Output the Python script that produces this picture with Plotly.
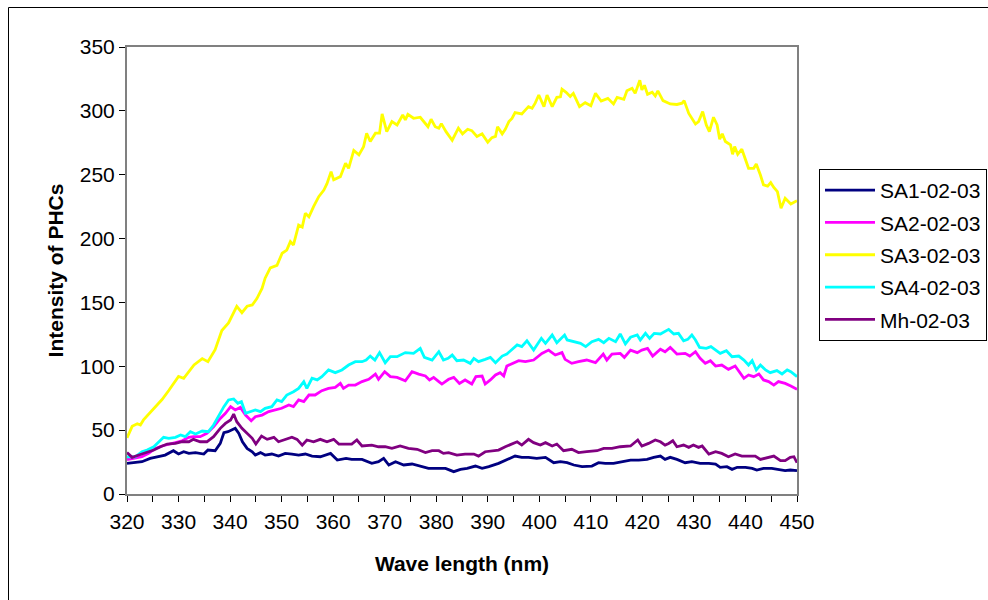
import plotly.graph_objects as go

# ---------------- data ----------------
sa1_wl = [320, 321.6, 322.9, 324.5, 326.1, 327.4, 329, 330, 331, 332, 333.3, 334.9, 335.7, 337.1, 338.1, 338.8, 339.6,
          340.4, 341, 341.7, 342.4, 343.3, 344.3, 344.9, 345.9, 346.8, 348.1, 349.4, 350.7, 352, 353.3, 354.6, 355.9,
          357.5, 359.5, 360.8, 362.5, 363.6, 365.6, 367.5, 368.8, 369.8, 370.8, 372.1, 373.7, 375.3, 376.9, 378.5,
          380.1, 381.8, 383.4, 384.7, 386, 387.6, 388.9, 390.2, 392.1, 393.7, 395.3, 396.6, 397.9, 399.5, 401.2,
          402.8, 404.1, 405.4, 406.7, 408.3, 410.2, 411.5, 412.8, 414.4, 416, 417.7, 419.3, 420.9, 422.2, 423.5,
          424.4, 425.4, 426.7, 428.3, 429.6, 431.2, 432.9, 434.2, 435.1, 436.4, 437.4, 438.4, 440, 441.3, 442.2,
          443.5, 445.1, 446.4, 447.7, 448.7, 450]
sa1_int = [24, 24.5, 25.3, 27.9, 29.2, 30.5, 33.9, 31.3, 33.1, 31.8, 32.4, 31.3, 34.4, 33.9, 39.6, 48, 48.8,
           50.1, 51.4, 47.5, 40.9, 35.7, 33.1, 30.5, 32.4, 30.5, 31.3, 29.7, 31.8, 31.3, 30.5, 31.3, 29.7,
           29.2, 31.8, 26.6, 27.9, 27.1, 27.1, 24, 25.3, 27.9, 22.7, 25.3, 22.7, 23.5, 21.9, 20.1,
           20.1, 20.1, 17.5, 19.3, 20.1, 21.9, 20.1, 21.4, 24, 26.6, 29.7, 28.7, 28.7, 27.9, 28.7,
           24.5, 25.3, 24.5, 22.7, 21.4, 21.9, 24.5, 24, 24, 25.3, 26.6, 26.6, 27.1, 28.7, 29.7,
           27.1, 28.7, 27.1, 24.5, 25.3, 24, 24, 23.5, 20.9, 21.4, 19.3, 20.9, 20.9, 20.1, 18.8,
           20.1, 20.1, 19.3, 18.3, 18.8, 18.3]

sa2_wl = [320, 321.6, 322.9, 324.2, 325.5, 326.8, 328.1, 329.4, 330.7, 332, 332.9, 334.2, 335.5, 336.8, 338.1,
          339.1, 340.1, 341, 342, 343, 344.1, 344.9, 346.2, 347.5, 348.8, 350, 351.4, 352.3, 353.3, 354.3, 355.3,
          356.5, 357.8, 359.1, 360.4, 361.4, 362, 363, 364.3, 365.6, 366.9, 368.2, 368.8, 370, 371.1, 372.4, 374,
          375.3, 376.6, 377.9, 378.7, 379.5, 380.5, 381.1, 382.4, 383.4, 384.5, 385.6, 386.9, 387.7, 388.9, 389.5,
          390.5, 391.5, 392.4, 393.1, 393.7, 394.7, 396, 397.3, 398.9, 400.5, 401.8, 403.1, 404.4, 405, 406.3,
          407.6, 409.2, 410.9, 412.4, 413.1, 414.1, 415.7, 416.5, 417.7, 419, 419.9, 421, 422, 423.5, 424.4, 425.4,
          426.7, 428.3, 429.2, 430.3, 431.2, 432.2, 433.2, 434.2, 435.4, 436.7, 438, 439, 439.7, 440.6, 441.6,
          442.6, 443.5, 444.5, 445.5, 446.4, 447.7, 448.8, 450]
sa2_int = [27, 27.9, 29.2, 31.8, 35.7, 37.6, 39.1, 40.2, 41.7, 44.4, 44.9, 44.9, 47.5, 52.7, 59.2,
           63.2, 68.4, 65.8, 67.8, 61.8, 57.4, 60.5, 61.8, 64.5, 65.8, 67.1, 69.7, 68.4, 73.6, 72.3, 77.5,
           77.5, 80.9, 82.7, 83.5, 86.6, 82.7, 85.3, 85.3, 88, 89.8, 93.9, 89.8, 95.8, 91.9, 91.3, 88.7,
           95.8, 93.9, 92.4, 89.3, 91.3, 88, 86.1, 89.8, 91.3, 86.6, 89.3, 86.1, 91.9, 92.4, 86.1,
           89.3, 93.2, 95, 92.4, 100.2, 101.8, 104.4, 103.6, 104.9, 110.1, 112.7, 108.8, 110.7, 105.4, 102.3,
           103.6, 104.9, 102.8, 109.6, 104.9, 109.6, 110.1, 107, 112.7, 110.7, 112.7, 114, 108, 113.3, 111.4, 114.8,
           109.6, 110.1, 108, 111.4, 106.2, 102.3, 104.4, 100.2, 101, 97.6, 100.2, 95, 90.6, 93.2, 91.9,
           94, 89.3, 88, 85.3, 88, 86.6, 84.6, 81.9]

sa3_wl = [320, 321, 322, 322.6, 323.2, 325.2, 326.8, 328.1, 330, 331, 332, 333, 334.6, 335.7, 337.1, 338.4, 339.7,
          341.3, 342.3, 343.3, 344.3, 345.2, 346.2, 346.8, 347.8, 349.1, 350.1, 351, 351.7, 352.3, 353.3, 354,
          354.6, 355.3, 356.2, 357.2, 358.2, 358.8, 359.6, 360.1, 361.4, 362.4, 363, 364, 365, 365.9, 366.5, 367.2,
          368.2, 369, 369.5, 370.4, 371.4, 372.4, 373.5, 374, 374.5, 375.6, 376.9, 378.4, 379, 379.8, 380.5, 381,
          381.9, 383.1, 384.3, 385.1, 386.1, 386.9, 387.9, 388.9, 390, 390.8, 391.5, 391.9, 392.8, 393.4, 394.1,
          394.7, 395.3, 396.6, 397.9, 398.6, 399.2, 399.9, 400.9, 401.5, 402.5, 403.4, 404.1, 404.4, 405.2, 406,
          406.6, 407.8, 408.9, 410, 410.9, 412, 413.3, 414.4, 415.1, 416.4, 417, 418, 418.6, 419.5, 419.9, 420.4,
          421, 421.9, 422.5, 423, 424, 425.4, 426.7, 427.7, 428.1, 429, 430.3, 430.9, 431.7, 432.4, 433, 433.8,
          434.5, 435, 435.5, 436.1, 437.1, 437.5, 437.9, 438.5, 439.3, 440.6, 441.6, 442.1, 442.9, 443.5, 444.3,
          444.9, 445.5, 446.2, 446.9, 447.7, 448.8, 450]
sa3_int = [44, 53, 55, 54, 58, 67, 74, 81, 92, 90.6, 96, 101, 106, 103.6, 113, 128, 134,
           147, 142, 147, 148, 153, 161, 169, 177, 179, 188.5, 191, 197.6, 195, 210.6, 209,
           219.8, 217, 225, 232.8, 238, 243, 252.4, 246, 248.5, 259, 255, 269, 265.5, 272, 282.5, 276,
           282.5, 282.5, 297.6, 283.7, 291.6, 289, 296.8, 292.9, 297.3, 294.2, 295, 287.6, 293.4, 287.6, 286.4, 290,
           283.7, 277, 286.4, 282, 285.6, 284.5, 280, 282, 275.4, 279, 280, 287.6, 282, 285.6, 291.6,
           294, 298.6, 297.6, 303.3, 302, 306, 312.4, 303.3, 312.4, 303.3, 310.6, 311, 317, 314.5, 311.3,
           313.7, 303.3, 306.4, 304, 313.7, 307.7, 309.8, 305.4, 310.6, 309, 315.8, 317.7, 313.7, 324, 316.4, 320,
           313, 314.6, 311.6, 315.6, 308, 305.4, 305, 306, 308, 298, 289.7, 291.6, 299.4, 289, 283.7, 295,
           289, 277.8, 282, 276, 273.3, 266, 272, 266, 270, 255, 255, 258.4, 249.8, 242, 241,
           243.8, 240, 236.7, 223.7, 231.5, 227, 229.7]

sa4_wl = [320, 321.6, 322.9, 323.9, 325.2, 326.1, 327.1, 328.1, 329.4, 330.4, 331.3, 332.3, 333.3, 334.6, 335.8,
          336.8, 337.8, 338.8, 339.7, 340.7, 341.5, 342.2, 343, 343.9, 344.9, 345.9, 346.8, 348.1, 349.1, 350, 351,
          352.3, 353.3, 354.3, 354.9, 355.9, 356.9, 357.8, 359.1, 360.4, 361.7, 363, 364.3, 365.6, 366.4, 367.2,
          368.1, 369, 370.1, 371.1, 372.4, 374, 375.6, 376.9, 377.7, 379.2, 380.5, 381.4, 382.3, 383.1, 384, 385.3,
          386.6, 387.3, 388.2, 389.5, 390.5, 391.5, 392.8, 393.7, 394.7, 395.7, 396.6, 397.6, 398.9, 400.4, 401.2,
          402.5, 403.4, 404.9, 405.4, 406.7, 408, 409, 410.2, 411.5, 412.5, 413.5, 414.8, 415.7, 416.7, 417.7, 419,
          419.6, 420.6, 421.4, 422.3, 423.5, 424.5, 425.1, 426.1, 427, 428, 428.8, 429.6, 430.3, 431.1, 432.4,
          433.3, 434.2, 435.1, 436.3, 437.4, 438.7, 439.7, 440.6, 441.3, 442.1, 442.9, 443.9, 444.8, 446.1, 447.1,
          448.1, 448.8, 450]
sa4_int = [29, 29, 33, 34.4, 37, 40.2, 44.4, 43.6, 44.4, 46.2, 44.9, 48.8, 47, 49.3, 48.8,
           54, 61.8, 68.4, 73.6, 74.4, 71, 72.3, 63.2, 64.5, 65.8, 64.5, 67.1, 68.4, 73.6, 72.3, 77.5,
           80.1, 82.7, 88, 82.7, 90.6, 89.3, 91.9, 97.1, 95, 97.1, 101, 103.6, 103.6, 104.9, 108,
           104.9, 110.7, 102.8, 107.5, 107.5, 110.7, 110.1, 114, 107, 104.9, 111.4, 104.9, 106.2, 108.8, 104.4, 104.9,
           102.3, 106.2, 103.6, 105.4, 107, 102.8, 108, 109.6, 113.3, 116.7, 115.4, 120, 112.7, 121.9, 118,
           124.5, 118.5, 124.5, 120.6, 119.3, 118, 115.4, 119.3, 121.1, 118.5, 121.9, 119.3, 125.3, 117.5, 122.7, 124.5,
           120.6, 125.8, 121.9, 125.8, 125.3, 127.9, 128.9, 125.3, 125.8, 120, 121.1, 124.5, 120.6, 114.8, 114,
           115.4, 112.7, 110.1, 112.2, 107.5, 108, 104.9, 101, 104.4, 97.1, 101, 97.1, 95, 96.6, 94,
           97.1, 95.8, 91.9]

mh_wl = [320, 321, 322.3, 323.9, 325.2, 326.5, 327.8, 329.4, 330.7, 332, 332.9, 334.2, 335.5, 336.8, 338.1, 339.1,
         340.1, 340.7, 341.3, 342.3, 343.3, 344.3, 345, 346.1, 347.2, 348.5, 349.4, 350.7, 352, 353, 354, 354.9,
         356.2, 357.5, 358.8, 360.1, 361.1, 362.5, 363.6, 364.6, 365.6, 367.5, 368.8, 370.1, 371.4, 373, 374.6,
         376.3, 377.9, 379.2, 380.5, 381.4, 382.4, 384, 385.6, 387.3, 388.2, 389.5, 390.8, 392.1, 393.4, 394.7,
         395.7, 396.6, 397.9, 398.9, 400.2, 401.2, 402.5, 403.4, 404.7, 406.3, 407.6, 409.2, 411.2, 412.5, 414.1,
         415.7, 417.7, 419.1, 419.9, 421.2, 422.5, 423.5, 424.4, 425.1, 425.9, 426.7, 428, 429, 429.9, 430.9, 431.6,
         432.9, 434.2, 435.4, 436.7, 438, 439.3, 440.6, 441.9, 442.9, 444.2, 445.5, 446.8, 447.7, 448.7, 449.4, 450]
mh_int = [32.4, 28.7, 30.5, 32.4, 34.4, 37, 39.1, 39.6, 40.9, 40.9, 42.8, 40.9, 40.9, 44.9, 51.4, 55.3,
          57.9, 62.6, 56.6, 51.4, 47.5, 43.6, 39.1, 45.4, 42.8, 44.4, 40.9, 42.8, 44.4, 42.8, 38.3, 42.3,
          40.9, 42.8, 40.9, 42.8, 39.1, 39.1, 39.1, 42.3, 37.6, 38.3, 37, 37, 35.7, 37.6, 35.7,
          35, 32.4, 33.9, 33.9, 31.8, 32.4, 30.5, 31.3, 31.3, 29.7, 33.1, 33.9, 34.4, 37, 39.1,
          40.9, 38.3, 42.8, 40.2, 38.3, 40.2, 37.6, 39.1, 33.9, 35, 32.4, 33.1, 33.9, 35.7, 35.7,
          37, 37.6, 42.3, 37.6, 39.6, 42.3, 40.9, 38.3, 39.6, 41.7, 37, 38.3, 36.5, 38.3, 36.5, 37.6,
          31.3, 33.1, 31.8, 29.2, 31.3, 29.7, 29.7, 29.7, 27.1, 28.7, 29.7, 26.1, 26.1, 28.7, 29.2, 24.5]

series_names = ["SA1-02-03", "SA2-02-03", "SA3-02-03", "SA4-02-03", "Mh-02-03"]
series_x = [sa1_wl, sa2_wl, sa3_wl, sa4_wl, mh_wl]
series_y = [sa1_int, sa2_int, sa3_int, sa4_int, mh_int]
series_colors = ["#000080", "#FF00FF", "#FFFF00", "#00FFFF", "#800080"]

x_ticks = list(range(320, 451, 10))
y_ticks = list(range(0, 351, 50))

# ---------------- figure ----------------
FONT = "Liberation Sans, Arial, sans-serif"
FS = 21
W, H = 988, 600
ML, MR, MT, MB = 127, 191, 47, 106
PW, PH = W - ML - MR, H - MT - MB

fig = go.Figure()
for name, xs, ys, col in zip(series_names, series_x, series_y, series_colors):
    fig.add_trace(go.Scatter(x=xs, y=ys, mode="lines", name=name, legendgroup=name,
                             line=dict(color=col, width=2.8)))

fig.update_layout(
    width=W, height=H,
    margin=dict(l=ML, r=MR, t=MT, b=MB, autoexpand=False),
    paper_bgcolor="white", plot_bgcolor="white",
    font=dict(family=FONT, size=FS, color="black"),
    showlegend=True,
    legend=dict(x=(819 - ML) / PW, y=(MT + PH - 169) / PH, xanchor="left", yanchor="top",
                bordercolor="black", borderwidth=1, bgcolor="white",
                font=dict(size=FS, family=FONT), tracegroupgap=2, itemwidth=50),
    xaxis=dict(range=[320, 450], tickvals=x_ticks, ticks="outside", ticklen=6, tickcolor="black",
               minor=dict(dtick=5, ticks="outside", ticklen=6, tickcolor="black"),
               showline=True, linecolor="#808080", linewidth=2, mirror=True,
               showgrid=False, zeroline=False,
               tickfont=dict(size=FS, family=FONT), ticklabelstandoff=2,
               title=dict(text="<b>Wave length (nm)</b>", font=dict(size=FS, family=FONT), standoff=24)),
    yaxis=dict(range=[0, 350], tickvals=y_ticks, ticks="outside", ticklen=6, tickcolor="black",
               showline=True, linecolor="#808080", linewidth=2, mirror=True,
               showgrid=False, zeroline=False,
               tickfont=dict(size=FS, family=FONT),
               title=dict(text="<b>Intensity of PHCs</b>", font=dict(size=FS, family=FONT), standoff=10)),
    shapes=[dict(type="rect", xref="paper", yref="paper",
                 x0=(8.5 - ML) / PW, x1=1.6, y0=-0.5, y1=(MT + PH - 7.5) / PH,
                 line=dict(color="black", width=1), layer="below")],
)

# remove the default 8px page margin so the figure sits at the window origin
fig.write_html("out.html", config={"displayModeBar": False},
               post_script="document.body.style.margin='0px';")
